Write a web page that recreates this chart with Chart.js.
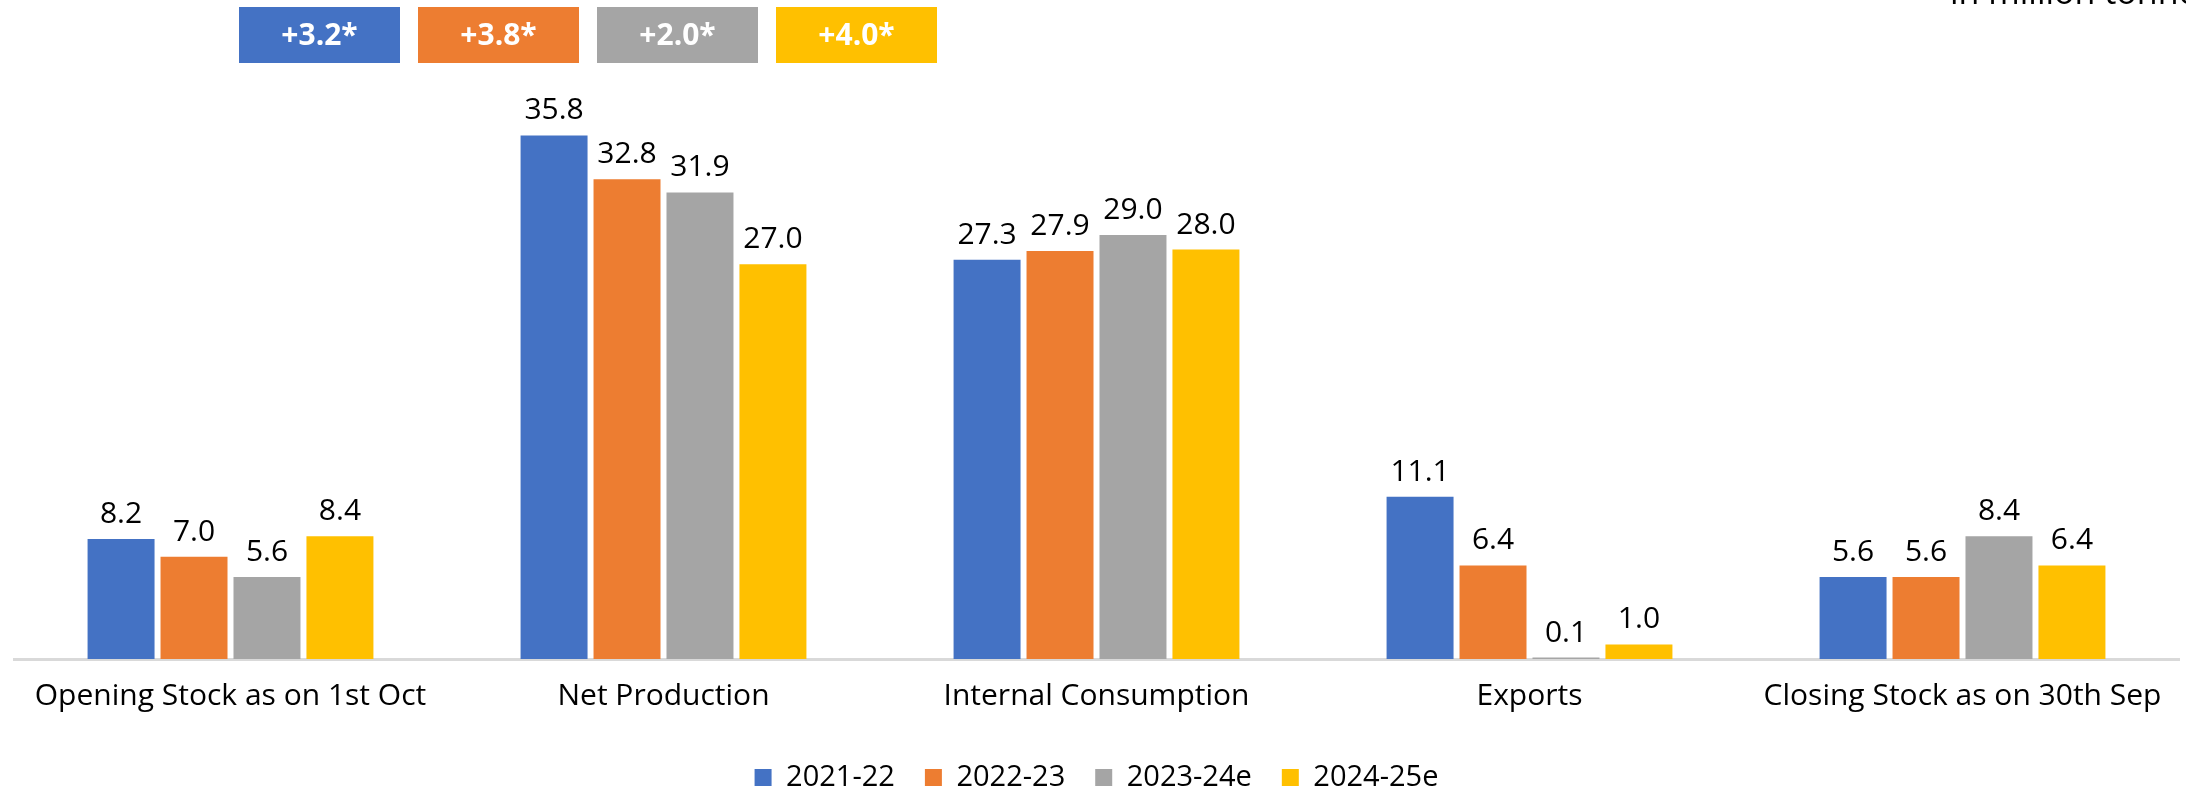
<!DOCTYPE html>
<html>
<head>
<meta charset="utf-8">
<script src="https://cdn.jsdelivr.net/npm/chart.js@4"></script>
<style>
  html, body { margin: 0; padding: 0; background: #fff; }
  #wrap { width: 2186px; height: 791px; position: relative; }
</style>
</head>
<body>
<div id="wrap"><canvas id="graphCanvas"></canvas></div>
<script>
const ctx = document.getElementById('graphCanvas').getContext('2d');

// categories and series
const categories = ['Opening Stock as on 1st Oct', 'Net Production', 'Internal Consumption', 'Exports', 'Closing Stock as on 30th Sep'];
const seasons = ['2021-22', '2022-23', '2023-24e', '2024-25e'];
const s2021 = [8.2, 35.8, 27.3, 11.1, 5.6];
const s2022 = [7.0, 32.8, 27.9, 6.4, 5.6];
const s2023 = [5.6, 31.9, 29.0, 0.1, 8.4];
const s2024 = [8.4, 27.0, 28.0, 1.0, 6.4];
const colors = ['#4472C4', '#ED7D31', '#A5A5A5', '#FFC000'];

// badges shown above the chart
const badgeTexts = ['+3.2*', '+3.8*', '+2.0*', '+4.0*'];
const unitText = 'in million tonnes';

const FONT = '"Open Sans", sans-serif';

// value labels above each bar
const valueLabels = {
    id: 'valueLabels',
    afterDatasetsDraw(chart) {
        const c = chart.ctx;
        c.save();
        c.font = '30px ' + FONT;
        c.fillStyle = '#000';
        c.textAlign = 'center';
        c.textBaseline = 'alphabetic';
        chart.data.datasets.forEach((ds, i) => {
            chart.getDatasetMeta(i).data.forEach((bar, j) => {
                c.fillText(ds.data[j].toFixed(1), bar.x, bar.y - 16);
            });
        });
        c.restore();
    }
};

// coloured change badges + unit note at top
const topNotes = {
    id: 'topNotes',
    afterDraw(chart) {
        const c = chart.ctx;
        c.save();
        const x0 = 239, w = 161, step = 179, y = 7, h = 56;
        badgeTexts.forEach((t, i) => {
            const x = x0 + i * step;
            c.fillStyle = colors[i];
            c.fillRect(x, y, w, h);
            c.fillStyle = '#fff';
            c.font = 'bold 30px ' + FONT;
            c.textAlign = 'center';
            c.textBaseline = 'middle';
            c.fillText(t, x + w / 2, y + h / 2 + 1);
        });
        c.fillStyle = '#000';
        c.font = '34px ' + FONT;
        c.textAlign = 'left';
        c.textBaseline = 'alphabetic';
        c.fillText(unitText, 1950, 4);
        c.restore();
    }
};

const seriesValues = [s2021, s2022, s2023, s2024];

const graph = new Chart(ctx, {
    type: 'bar',
    data: {
        labels: categories,
        datasets: seasons.map((s, i) => ({
            label: s,
            data: seriesValues[i],
            backgroundColor: colors[i],
            borderWidth: 0,
            categoryPercentage: 0.674,
            barPercentage: 0.918
        }))
    },
    options: {
        responsive: true,
        maintainAspectRatio: false,
        animation: false,
        layout: {
            padding: { top: 74, left: 14, right: 7, bottom: -11 }
        },
        scales: {
            x: {
                grid: { display: false, drawTicks: false },
                border: { color: '#d9d9d9', width: 3 },
                ticks: {
                    color: '#000',
                    font: { family: FONT, size: 30 },
                    padding: 19,
                    maxRotation: 0
                }
            },
            y: {
                display: false,
                min: 0,
                max: 40
            }
        },
        plugins: {
            legend: {
                position: 'bottom',
                labels: {
                    color: '#000',
                    font: { family: FONT, size: 29 },
                    boxWidth: 17,
                    boxHeight: 17,
                    padding: 30
                }
            },
            tooltip: { enabled: false }
        }
    },
    plugins: [valueLabels, topNotes]
});
</script>
</body>
</html>
